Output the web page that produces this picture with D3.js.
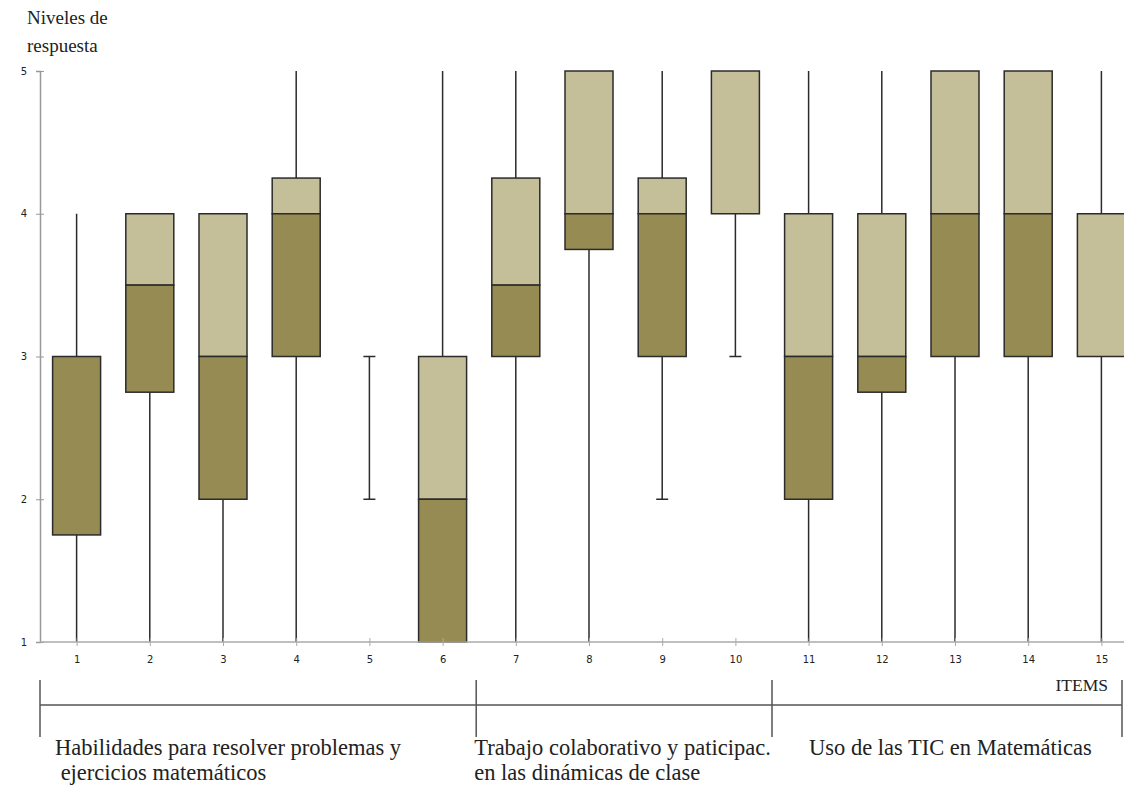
<!DOCTYPE html>
<html><head><meta charset="utf-8">
<script src="https://cdn.jsdelivr.net/npm/d3@7"></script>
<style>body{margin:0;background:#fff}svg{display:block}</style>
</head><body>
<svg id="c" width="1124" height="790"></svg>
<script>
const items = [1,2,3,4,5,6,7,8,9,10,11,12,13,14,15];
const mins  = [1,1,1,1,2,1,1,1,2,3,1,1,1,1,1];
const q1s   = [1.75,2.75,2,3,3,1,3,3.75,3,4,2,2.75,3,3,3];
const meds  = [3,3.5,3,4,3,2,3.5,4,4,4,3,3,4,4,3];
const q3s   = [3,4,4,4.25,3,3,4.25,5,4.25,5,4,4,5,5,4];
const maxs  = [4,4,4,5,3,5,5,5,5,5,5,5,5,5,5];
const yTicks = [1,2,3,4,5];
const groups = [
  {from:1, to:6, lines:["Habilidades para resolver problemas y"," ejercicios matemáticos"]},
  {from:7, to:10, lines:["Trabajo colaborativo y paticipac.","en las dinámicas de clase"]},
  {from:11, to:15, lines:["Uso de las TIC en Matemáticas"]}
];

const data = items.map((d,i)=>({item:d,min:mins[i],q1:q1s[i],med:meds[i],q3:q3s[i],max:maxs[i]}));
const svg = d3.select("#c");
const step = 73.2, x0 = 40;
const x = d3.scaleLinear().domain([0.5,15.5]).range([x0, x0+15*step]);
const y = d3.scaleLinear().domain([1,5]).range([642,71]);
const bw = 48;
const dark = "#968b52", light = "#c5bf99", edge = "#2b2b2b";

// y axis
const ya = svg.append("g").attr("transform",`translate(${x0},0)`)
  .call(d3.axisLeft(y).tickValues(yTicks).tickSize(4).tickPadding(9).tickFormat(d3.format("d")));
ya.select(".domain").attr("stroke","#999").attr("stroke-width",1.5);
ya.selectAll(".tick line").attr("stroke","#999").attr("x1",4);
ya.selectAll(".tick text").attr("font-family","DejaVu Sans").attr("font-size",10).attr("fill","#222");

// whiskers
const g = svg.append("g");
data.forEach(d=>{
  const cx = x(d.item);
  g.append("line").attr("x1",cx).attr("x2",cx).attr("y1",y(d.min)).attr("y2",y(d.max))
    .attr("stroke",edge).attr("stroke-width",1.5);
  if(d.min>1) g.append("line").attr("x1",cx-6).attr("x2",cx+6).attr("y1",y(d.min)).attr("y2",y(d.min)).attr("stroke",edge).attr("stroke-width",1.5);
  if(d.max<4) g.append("line").attr("x1",cx-6).attr("x2",cx+6).attr("y1",y(d.max)).attr("y2",y(d.max)).attr("stroke",edge).attr("stroke-width",1.5);
});
// boxes
data.forEach(d=>{
  const cx = x(d.item);
  if(d.q3>d.med) g.append("rect").attr("x",cx-bw/2).attr("width",bw).attr("y",y(d.q3)).attr("height",y(d.med)-y(d.q3))
    .attr("fill",light).attr("stroke",edge).attr("stroke-width",1.5);
  if(d.med>d.q1) g.append("rect").attr("x",cx-bw/2).attr("width",bw).attr("y",y(d.med)).attr("height",y(d.q1)-y(d.med))
    .attr("fill",dark).attr("stroke",edge).attr("stroke-width",1.5);
});

// x axis
const xa = svg.append("g").attr("transform","translate(0,642)")
  .call(d3.axisBottom(x).tickValues(items).tickSize(4).tickPadding(10).tickFormat(d3.format("d")));
xa.select(".domain").remove();
svg.append("line").attr("x1",x0).attr("x2",1124).attr("y1",642).attr("y2",642).attr("stroke","#aaa").attr("stroke-width",1.5);
xa.selectAll(".tick line").attr("stroke","#aaa").attr("y1",-4);
xa.selectAll(".tick text").attr("font-family","DejaVu Sans").attr("font-size",10).attr("fill","#222");

// titles
const serif = "Liberation Serif";
svg.append("text").attr("x",27).attr("y",24).attr("font-family",serif).attr("font-size",19).attr("fill","#222").text("Niveles de");
svg.append("text").attr("x",27).attr("y",52).attr("font-family",serif).attr("font-size",19).attr("fill","#222").text("respuesta");
svg.append("text").attr("x",1108).attr("y",691).attr("text-anchor","end").attr("font-family",serif).attr("font-size",17.5).attr("fill","#222").text("ITEMS");

// group brackets
const bg = svg.append("g").attr("stroke","#555").attr("stroke-width",1.5);
bg.append("line").attr("x1",x0).attr("x2",1122).attr("y1",705).attr("y2",705);
const bounds = [x0, x(6.5)-3, x(10.5), 1122];
bounds.forEach(b=>bg.append("line").attr("x1",b).attr("x2",b).attr("y1",680).attr("y2",737));
const labelX = [55, x(6.5)-5, x(10.5)+37];
groups.forEach((gr,i)=>{
  gr.lines.forEach((t,j)=>{
    svg.append("text").attr("x",labelX[i]).attr("y",755+j*25).attr("font-family",serif).attr("font-size",22.5)
      .attr("fill","#222").attr("xml:space","preserve").style("white-space","pre").text(t);
  });
});
</script>
</body></html>
